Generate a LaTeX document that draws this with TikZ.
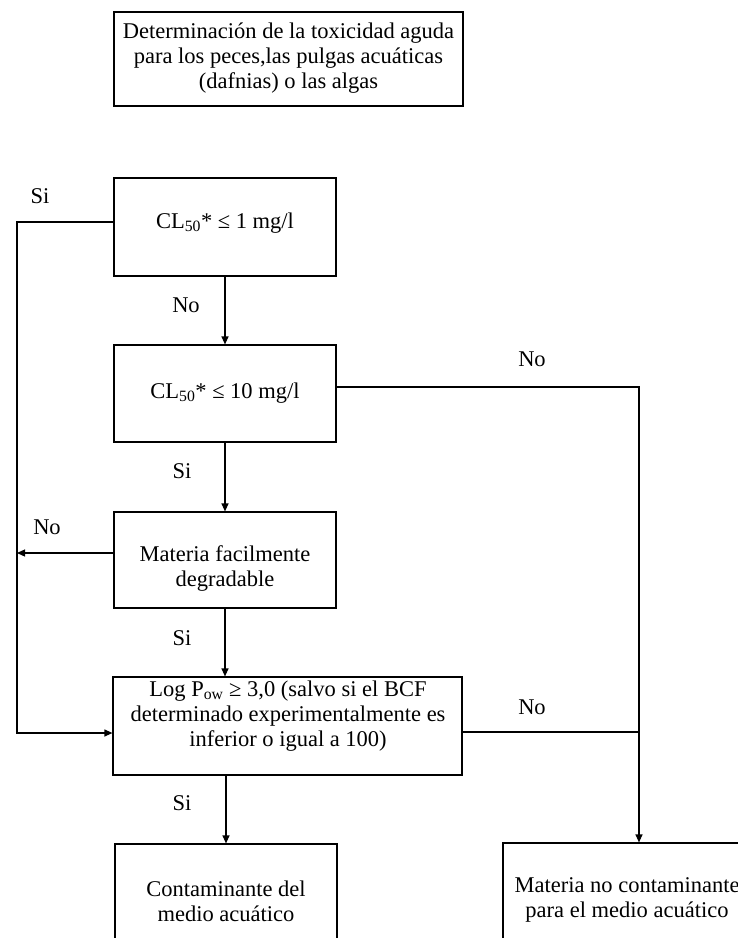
\documentclass[tikz,border=0pt]{standalone}
\usepackage{fontspec}
\setmainfont{Liberation Serif}
\usetikzlibrary{arrows.meta}
\tikzset{
  box/.style={draw, line width=1.2pt, inner sep=0pt},
  txt/.style={align=center, inner sep=0pt, font=\fontsize{22.5}{25}\selectfont},
  lbl/.style={inner sep=0pt, font=\fontsize{22.5}{25}\selectfont},
  conn/.style={line width=1.2pt},
  arr/.style={conn, -{Triangle[length=8pt,width=7pt]}}
}
\begin{document}
\begin{tikzpicture}[x=1pt,y=-1pt]
\path[use as bounding box] (0,0) rectangle (738,938);
\clip (0,0) rectangle (738,938);
\fill[white] (0,0) rectangle (738,938);
% boxes
\node[box, minimum width=349pt, minimum height=94pt] (top) at (288.5,59) {};
\node[box, minimum width=222pt, minimum height=98pt] (b1) at (225,227) {};
\node[box, minimum width=222pt, minimum height=97pt] (b2) at (225,393.5) {};
\node[box, minimum width=222pt, minimum height=96pt] (b3) at (225,560) {};
\node[box, minimum width=349pt, minimum height=98pt] (b4) at (287.5,726) {};
\node[box, minimum width=222pt, minimum height=156pt] (b5) at (226,922) {};
\node[box, minimum width=272pt, minimum height=157pt] (b6) at (639,921.5) {};
% texts
\node[txt] (ttop) at (288.5,58) {Determinación de la toxicidad aguda\\para los peces,las pulgas acuáticas\\(dafnias) o las algas};
\node[txt] (t1) at (225,223) {CL\textsubscript{50}* ≤ 1 mg/l};
\node[txt] (t2) at (225,393) {CL\textsubscript{50}* ≤ 10 mg/l};
\node[txt] (t3) at (225,568) {Materia facilmente\\degradable};
\node[txt] (t4) at (288,716) {Log P\textsubscript{ow} ≥ 3,0 (salvo si el BCF\\determinado experimentalmente es\\inferior o igual a 100)};
\node[txt] (t5) at (226,901) {Contaminante del\\medio acuático};
\node[txt] (t6) at (627,900) {Materia no contaminante\\para el medio acuático};
% connector coordinates
\coordinate (L1) at (17,222);
\coordinate (L2) at (17,733);
\coordinate (L3) at (17,553);
\coordinate (R1) at (639,387);
\coordinate (R2) at (639,732);
% connectors
\draw[arr] (b1.west |- L1) -- (L1) -- (L2) -- (b4.west |- L2);
\draw[arr] (b3.west |- L3) -- (L3);
\draw[arr] (b1.south) -- (b2.north);
\draw[arr] (b2.south) -- (b3.north);
\draw[arr] (b3.south) -- (b3.south |- b4.north);
\draw[arr] (b5.north |- b4.south) -- (b5.north);
\draw[arr] (b2.east |- R1) -- (R1) -- (b6.north);
\draw[conn] (b4.east |- R2) -- (R2);
% labels
\node[lbl] (s1) at (40,196) {Si};
\node[lbl] (n1) at (186,305) {No};
\node[lbl] (n2) at (532,359) {No};
\node[lbl] (s2) at (182,471) {Si};
\node[lbl] (n3) at (47,527) {No};
\node[lbl] (s3) at (182,638) {Si};
\node[lbl] (n4) at (532,707) {No};
\node[lbl] (s4) at (182,803) {Si};
\end{tikzpicture}
\end{document}
